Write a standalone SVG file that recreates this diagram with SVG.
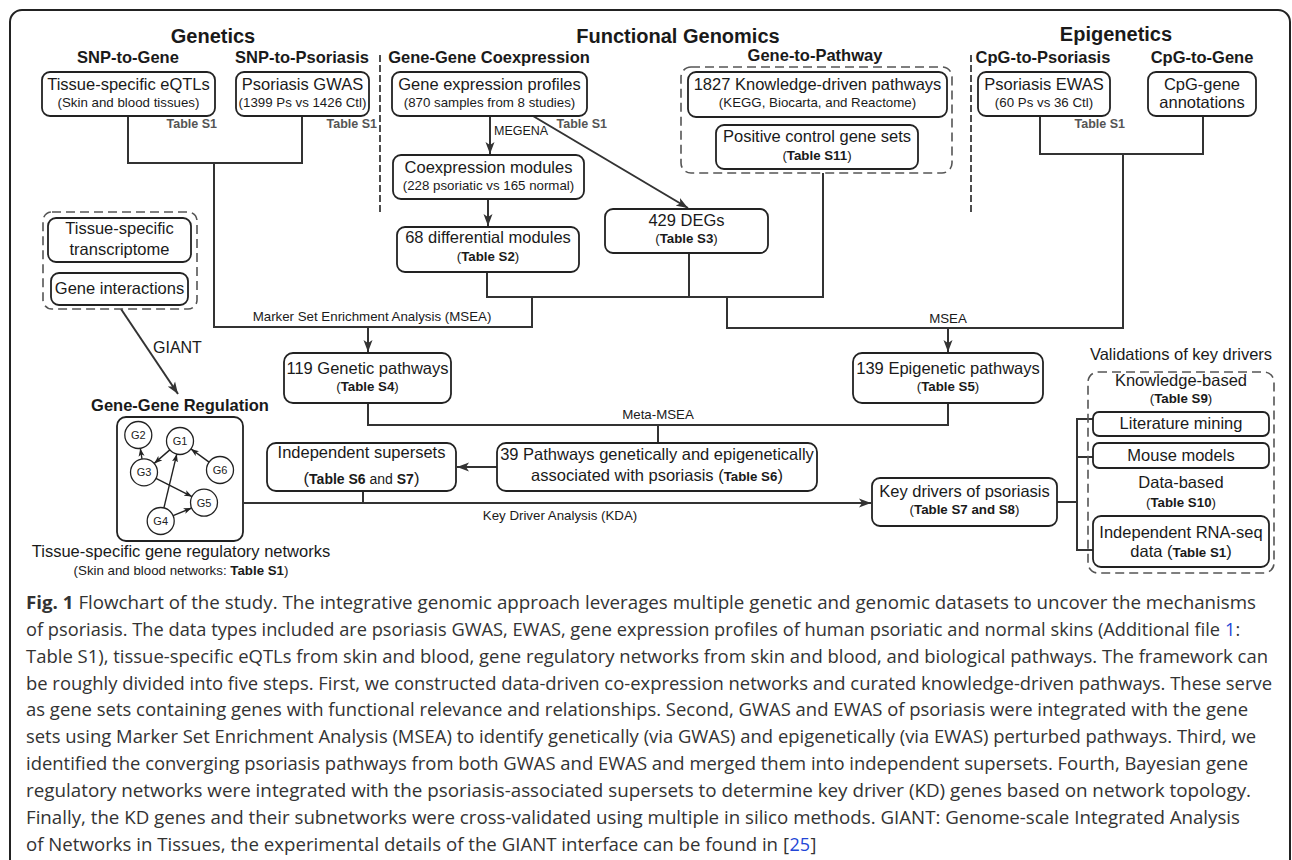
<svg xmlns="http://www.w3.org/2000/svg" width="1292" height="860" viewBox="0 0 1292 860">
<defs>
<marker id="ar" markerUnits="userSpaceOnUse" markerWidth="13" markerHeight="10" refX="12" refY="5" orient="auto">
<path d="M0,0.5 L12,5 L0,9.5 L3,5 z" fill="#333"/>
</marker>
<marker id="sa" markerUnits="userSpaceOnUse" markerWidth="9" markerHeight="7" refX="8" refY="3.5" orient="auto">
<path d="M0,0.5 L8,3.5 L0,6.5 L2,3.5 z" fill="#222"/>
</marker>
<style>
.box{fill:#fff;stroke:#222;stroke-width:1.8}
.dbox{fill:none;stroke:#555;stroke-width:1.6;stroke-dasharray:9 5}
.t{font-family:"Liberation Sans",Arial,sans-serif;fill:#1a1a1a;text-anchor:middle}
.ts{font-family:"Liberation Sans",Arial,sans-serif;fill:#1a1a1a;text-anchor:start}
.m{font-size:16.5px}
.s{font-size:13.3px}
.b{font-weight:bold}
.h1{font-size:20px;font-weight:bold}
.h2{font-size:16.5px;font-weight:bold}
.tab{font-family:"Liberation Sans",Arial,sans-serif;font-size:12.5px;font-weight:bold;fill:#555;text-anchor:end}
.conn{fill:none;stroke:#333;stroke-width:2}
.sep{stroke:#222;stroke-width:1.6;stroke-dasharray:7 3}
.gc{fill:#fff;stroke:#222;stroke-width:1.3}
.gl{font-family:"Liberation Sans",Arial,sans-serif;font-size:11px;fill:#222;text-anchor:middle}
.ge{fill:none;stroke:#222;stroke-width:1.4}
.cap{font-family:"Open Sans","Noto Sans",sans-serif;font-size:18px;fill:#333}
.lnk{fill:#2346d6}
</style>
</defs>

<path id="frame" d="M10,870 V22 A12,12 0 0 1 22,10 H1278 A12,12 0 0 1 1290,22 V870" fill="none" stroke="#222" stroke-width="2"/>

<g id="headers">
<text class="t h1" x="213" y="43">Genetics</text>
<text class="t h1" x="678" y="43">Functional Genomics</text>
<text class="t h1" x="1116" y="41">Epigenetics</text>
<text class="t h2" x="128" y="63">SNP-to-Gene</text>
<text class="t h2" x="302" y="63">SNP-to-Psoriasis</text>
<text class="t h2" x="489" y="63">Gene-Gene Coexpression</text>
<text class="t h2" x="815" y="61">Gene-to-Pathway</text>
<text class="t h2" x="1043" y="63">CpG-to-Psoriasis</text>
<text class="t h2" x="1202" y="63">CpG-to-Gene</text>
<line class="sep" x1="380" y1="55" x2="380" y2="213"/>
<line class="sep" x1="971" y1="55" x2="971" y2="213"/>
</g>

<g id="connectors">
<path class="conn" d="M128,116 V163 H302 V116"/>
<path class="conn" d="M214,163 V327 H532 V297"/>
<path class="conn" d="M487,272 V297 H823 V173"/>
<path class="conn" d="M689,253 V297"/>
<path class="conn" d="M727,297 V328 H1123 V154"/>
<path class="conn" d="M1040,116 V154 H1203 V116"/>
<path class="conn" d="M368,327 V352" marker-end="url(#ar)"/>
<path class="conn" d="M948,328 V352" marker-end="url(#ar)"/>
<path class="conn" d="M490,116 V154" marker-end="url(#ar)"/>
<path class="conn" d="M488,199 V226" marker-end="url(#ar)"/>
<path class="conn" d="M533,116 L688,208" marker-end="url(#ar)"/>
<path class="conn" d="M368,403 V425 H948 V403"/>
<path class="conn" d="M658,425 V443"/>
<path class="conn" d="M497,467 H457" marker-end="url(#ar)"/>
<path class="conn" d="M244,503 H871" marker-end="url(#ar)"/>
<path class="conn" d="M363,491 V503"/>
<path class="conn" d="M1057,502 H1077"/>
<path class="conn" d="M1093,419 H1077 V550 H1093 M1077,457 H1093"/>
<path class="conn" d="M121,309 L178,394" marker-end="url(#ar)"/>
<text class="ts" style="font-size:12.5px" x="494" y="135">MEGENA</text>
<text class="tab" x="607" y="128">Table S1</text>
<text class="t" style="font-size:13.3px" x="372" y="321">Marker Set Enrichment Analysis (MSEA)</text>
<text class="t" style="font-size:13.3px" x="948" y="323">MSEA</text>
<text class="t" style="font-size:13.3px" x="658" y="419">Meta-MSEA</text>
<text class="t" style="font-size:13.3px" x="560" y="520">Key Driver Analysis (KDA)</text>
<text class="ts" style="font-size:16px" x="153" y="353">GIANT</text>
</g>

<g id="eqtl">
<rect class="box" x="42" y="72" width="173" height="44" rx="8"/>
<text class="t m" x="128.5" y="90">Tissue-specific eQTLs</text>
<text class="t s" x="128.5" y="107">(Skin and blood tissues)</text>
<text class="tab" x="217" y="128">Table S1</text>
</g>
<g id="gwas">
<rect class="box" x="236" y="72" width="133" height="44" rx="8"/>
<text class="t m" x="302.5" y="90">Psoriasis GWAS</text>
<text class="t s" x="302.5" y="107">(1399 Ps vs 1426 Ctl)</text>
<text class="tab" x="377" y="128">Table S1</text>
</g>
<g id="geneexpr">
<rect class="box" x="392" y="72" width="195" height="44" rx="8"/>
<text class="t m" x="489.5" y="90">Gene expression profiles</text>
<text class="t s" x="489.5" y="107">(870 samples from 8 studies)</text>
</g>
<g id="coexp">
<rect class="box" x="393" y="155" width="191" height="44" rx="8"/>
<text class="t m" x="488.5" y="173">Coexpression modules</text>
<text class="t s" x="488.5" y="190">(228 psoriatic vs 165 normal)</text>
</g>
<g id="diffmod">
<rect class="box" x="397" y="227" width="182" height="45" rx="8"/>
<text class="t m" x="488" y="243">68 differential modules</text>
<text class="t s" x="488" y="261">(<tspan class="b">Table S2</tspan>)</text>
</g>
<g id="degs">
<rect class="box" x="605" y="209" width="163" height="44" rx="8"/>
<text class="t m" x="686.5" y="226">429 DEGs</text>
<text class="t s" x="686.5" y="243">(<tspan class="b">Table S3</tspan>)</text>
</g>
<g id="pathwaygroup">
<rect class="dbox" x="681" y="67" width="271" height="106" rx="10"/>
<rect class="box" x="688" y="72" width="259" height="45" rx="8"/>
<text class="t m" x="817.5" y="90">1827 Knowledge-driven pathways</text>
<text class="t s" x="817.5" y="107">(KEGG, Biocarta, and Reactome)</text>
<rect class="box" x="716" y="125" width="202" height="44" rx="8"/>
<text class="t m" x="817" y="142">Positive control gene sets</text>
<text class="t s" x="817" y="160">(<tspan class="b">Table S11</tspan>)</text>
</g>
<g id="ewas">
<rect class="box" x="978" y="72" width="132" height="44" rx="8"/>
<text class="t m" x="1044" y="90">Psoriasis EWAS</text>
<text class="t s" x="1044" y="107">(60 Ps vs 36 Ctl)</text>
<text class="tab" x="1125" y="128">Table S1</text>
</g>
<g id="cpg">
<rect class="box" x="1148" y="72" width="108" height="44" rx="8"/>
<text class="t m" x="1202" y="90">CpG-gene</text>
<text class="t m" x="1202" y="108">annotations</text>
</g>
<g id="tissuegroup">
<rect class="dbox" x="43" y="212" width="154" height="97" rx="9"/>
<rect class="box" x="48" y="218" width="143" height="44" rx="8"/>
<text class="t m" x="119.5" y="234">Tissue-specific</text>
<text class="t m" x="119.5" y="255">transcriptome</text>
<rect class="box" x="51" y="273" width="137" height="32" rx="8"/>
<text class="t m" x="119.5" y="294">Gene interactions</text>
</g>
<g id="network">
<text class="t h2" x="180" y="411">Gene-Gene Regulation</text>
<rect class="box" x="117" y="417" width="126" height="124" rx="9"/>
<line class="ge" x1="142" y1="459" x2="140.3" y2="448.4" marker-end="url(#sa)"/>
<line class="ge" x1="169.8" y1="449.9" x2="154.2" y2="463.4" marker-end="url(#sa)"/>
<line class="ge" x1="209.1" y1="462.1" x2="190.9" y2="448.9" marker-end="url(#sa)"/>
<line class="ge" x1="163.9" y1="507.9" x2="176.8" y2="454.1" marker-end="url(#sa)"/>
<line class="ge" x1="156" y1="478.4" x2="192" y2="496.6" marker-end="url(#sa)"/>
<line class="ge" x1="173.1" y1="515.7" x2="191.6" y2="508" marker-end="url(#sa)"/>
<circle class="gc" cx="138.3" cy="435" r="13.5"/><text class="gl" x="138.3" y="439">G2</text>
<circle class="gc" cx="180" cy="441" r="13.5"/><text class="gl" x="180" y="445">G1</text>
<circle class="gc" cx="144" cy="472.3" r="13.5"/><text class="gl" x="144" y="476.3">G3</text>
<circle class="gc" cx="220" cy="470" r="13.5"/><text class="gl" x="220" y="474">G6</text>
<circle class="gc" cx="204" cy="502.7" r="13.5"/><text class="gl" x="204" y="506.7">G5</text>
<circle class="gc" cx="160.7" cy="521" r="13.5"/><text class="gl" x="160.7" y="525">G4</text>
<text class="t m" x="181" y="557">Tissue-specific gene regulatory networks</text>
<text class="t s" x="181" y="575">(Skin and blood networks: <tspan class="b">Table S1</tspan>)</text>
</g>
<g id="genpath">
<rect class="box" x="284" y="353" width="167" height="50" rx="9"/>
<text class="t m" x="367.5" y="374">119 Genetic pathways</text>
<text class="t s" x="367.5" y="391">(<tspan class="b">Table S4</tspan>)</text>
</g>
<g id="epipath">
<rect class="box" x="853" y="353" width="190" height="50" rx="9"/>
<text class="t m" x="948" y="374">139 Epigenetic pathways</text>
<text class="t s" x="948" y="391">(<tspan class="b">Table S5</tspan>)</text>
</g>
<g id="pw39">
<rect class="box" x="497" y="443" width="320" height="48" rx="9"/>
<text class="t m" x="657" y="460">39 Pathways genetically and epigenetically</text>
<text class="t m" x="657" y="481">associated with psoriasis (<tspan class="b s">Table S6</tspan>)</text>
</g>
<g id="supersets">
<rect class="box" x="267" y="443" width="189" height="48" rx="9"/>
<text class="t m" x="361.5" y="458">Independent supersets</text>
<text class="t m" x="361.5" y="484">(<tspan class="b" style="font-size:14px">Table S6</tspan><tspan style="font-size:14px"> and </tspan><tspan class="b" style="font-size:14px">S7</tspan>)</text>
</g>
<g id="keydrivers">
<rect class="box" x="872" y="478" width="185" height="48" rx="8"/>
<text class="t m" x="964.5" y="497">Key drivers of psoriasis</text>
<text class="t s" x="964.5" y="514">(<tspan class="b">Table S7 and S8</tspan>)</text>
</g>
<g id="validations">
<text class="t m" x="1181" y="360">Validations of key drivers</text>
<rect class="dbox" x="1088" y="372" width="186" height="201" rx="10"/>
<text class="t m" x="1181" y="386">Knowledge-based</text>
<text class="t s" x="1181" y="403">(<tspan class="b">Table S9</tspan>)</text>
<rect class="box" x="1093" y="412" width="176" height="24" rx="6"/>
<text class="t m" x="1181" y="429">Literature mining</text>
<rect class="box" x="1093" y="443" width="176" height="25" rx="6"/>
<text class="t m" x="1181" y="461">Mouse models</text>
<text class="t m" x="1181" y="488">Data-based</text>
<text class="t s" x="1181" y="507">(<tspan class="b">Table S10</tspan>)</text>
<rect class="box" x="1093" y="516" width="176" height="51" rx="8"/>
<text class="t m" x="1181" y="538">Independent RNA-seq</text>
<text class="t m" x="1181" y="557">data (<tspan class="b s">Table S1</tspan>)</text>
</g>

<g id="caption">
<text class="cap" x="26" y="609" textLength="1230" lengthAdjust="spacingAndGlyphs"><tspan font-weight="bold">Fig. 1</tspan> Flowchart of the study. The integrative genomic approach leverages multiple genetic and genomic datasets to uncover the mechanisms</text>
<text class="cap" x="26" y="636" textLength="1194" lengthAdjust="spacingAndGlyphs">of psoriasis. The data types included are psoriasis GWAS, EWAS, gene expression profiles of human psoriatic and normal skins (Additional file</text>
<text class="cap lnk" x="1225" y="636">1</text>
<text class="cap" x="1235.5" y="636">:</text>
<text class="cap" x="26" y="663" textLength="1242" lengthAdjust="spacingAndGlyphs">Table S1), tissue-specific eQTLs from skin and blood, gene regulatory networks from skin and blood, and biological pathways. The framework can</text>
<text class="cap" x="26" y="690" textLength="1246" lengthAdjust="spacingAndGlyphs">be roughly divided into five steps. First, we constructed data-driven co-expression networks and curated knowledge-driven pathways. These serve</text>
<text class="cap" x="26" y="716" textLength="1222" lengthAdjust="spacingAndGlyphs">as gene sets containing genes with functional relevance and relationships. Second, GWAS and EWAS of psoriasis were integrated with the gene</text>
<text class="cap" x="26" y="743" textLength="1230" lengthAdjust="spacingAndGlyphs">sets using Marker Set Enrichment Analysis (MSEA) to identify genetically (via GWAS) and epigenetically (via EWAS) perturbed pathways. Third, we</text>
<text class="cap" x="26" y="770" textLength="1222" lengthAdjust="spacingAndGlyphs">identified the converging psoriasis pathways from both GWAS and EWAS and merged them into independent supersets. Fourth, Bayesian gene</text>
<text class="cap" x="26" y="797" textLength="1225" lengthAdjust="spacingAndGlyphs">regulatory networks were integrated with the psoriasis-associated supersets to determine key driver (KD) genes based on network topology.</text>
<text class="cap" x="26" y="824" textLength="1214" lengthAdjust="spacingAndGlyphs">Finally, the KD genes and their subnetworks were cross-validated using multiple in silico methods. GIANT: Genome-scale Integrated Analysis</text>
<text class="cap" x="26" y="851" textLength="763" lengthAdjust="spacingAndGlyphs">of Networks in Tissues, the experimental details of the GIANT interface can be found in [</text>
<text class="cap lnk" x="789.5" y="851">25</text>
<text class="cap" x="810.5" y="851">]</text>
</g>
</svg>
